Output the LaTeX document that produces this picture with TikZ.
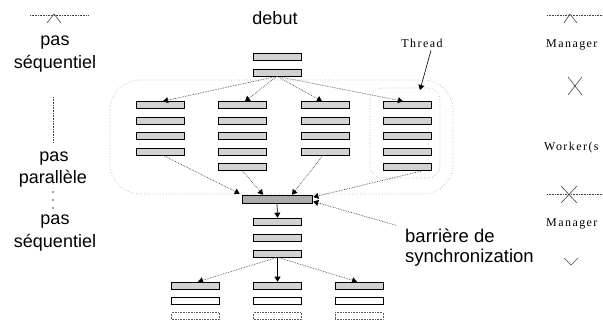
\documentclass[tikz,border=0pt]{standalone}
\usepackage{fontspec}
\setmainfont{Liberation Sans}
\newfontfamily\serifsp[LetterSpace=12]{Liberation Serif}
\usetikzlibrary{arrows.meta}

\tikzset{
  blk/.style={draw=black, line width=0.6pt, fill=gray!35, minimum width=48pt,
              minimum height=7pt, inner sep=0pt},
  barrier/.style={blk, fill=gray!65, minimum width=70pt, minimum height=8pt},
  hollow/.style={blk, fill=white},
  dotbox/.style={blk, fill=none, draw=gray!70!black, densely dotted},
  link/.style={draw=gray!55!black, line width=0.7pt, densely dotted,
               -{Triangle[length=5pt,width=6pt,color=black]}},
  solidlink/.style={draw=black, line width=0.7pt,
                    -{Triangle[length=5pt,width=6pt,color=black]}},
  zone/.style={draw=gray!65, line width=0.7pt, dotted},
  stepmark/.style={draw=gray!55!black, line width=0.6pt},
  lbl/.style={font=\fontsize{18}{22}\selectfont, inner sep=0pt},
  small/.style={font=\serifsp\fontsize{12}{14}\selectfont, inner sep=0pt}
}

\begin{document}
\begin{tikzpicture}[x=1pt, y=-1pt]
\useasboundingbox (0,0) rectangle (603,322);
\clip (0,0) rectangle (603,322);

% regions: the whole parallel step and one thread
\draw[zone, rounded corners=30pt] (110,80) rectangle (453,194);
\draw[zone, rounded corners=12pt] (370,88) rectangle (440,178);

% sequential step at the top
\node[blk] (t1) at (277,56.5) {};
\node[blk] (t2) at (277,72.5) {};

% the four threads
\foreach \c/\x in {1/160,3/325} {
  \foreach \r/\y in {1/105,2/120.5,3/136,4/151.5}
    \node[blk] (c\c r\r) at (\x,\y) {};
}
\foreach \c/\x in {2/242.5,4/407.5} {
  \foreach \r/\y in {1/105,2/120.5,3/136,4/151.5,5/167}
    \node[blk] (c\c r\r) at (\x,\y) {};
}

% synchronisation barrier
\node[barrier] (bar) at (277,199) {};

% sequential step below the barrier
\node[blk] (m1) at (277.5,221.5) {};
\node[blk] (m2) at (277.5,237.5) {};
\node[blk] (m3) at (277.5,253.5) {};

% next parallel step
\foreach \k/\x in {1/195.5,2/277.5,3/359} {
  \node[blk] (b\k) at (\x,285.5) {};
  \node[hollow] (h\k) at (\x,301) {};
  \node[dotbox] (d\k) at (\x,316) {};
}

% fork
\draw[link] (t2.south) -- ([xshift=3pt]c1r1.north);
\draw[link] (t2.south) -- ([xshift=2.5pt]c2r1.north);
\draw[link] (t2.south) -- ([xshift=-3pt]c3r1.north);
\draw[link] (t2.south) -- ([xshift=-4.5pt]c4r1.north);

% join
\draw[link] ([xshift=3pt]c1r4.south) -- ([xshift=-2pt,yshift=1pt]bar.north west);
\draw[link] (c2r5.south) -- ([xshift=-14pt]bar.north);
\draw[link] ([xshift=-2pt]c3r4.south) -- ([xshift=15pt]bar.north);
\draw[link] ([xshift=15pt]c4r5.south) -- ([xshift=1pt,yshift=2pt]bar.east);

\draw[solidlink] (bar.south) -- (m1.north);

% second fork
\draw[link] (m3.south) -- ([xshift=2.5pt]b1.north);
\draw[solidlink] (m3.south) -- (b2.north);
\draw[link] (m3.south) -- ([xshift=-2pt]b3.north);

% labels
\node[lbl, anchor=base] (debut) at (275,24) {debut};
\node[lbl, anchor=base] (s1a) at (55,45) {pas};
\node[lbl, anchor=base] (s1b) at (55,68) {séquentiel};
\node[lbl, anchor=base] (p1a) at (54,161) {pas};
\node[lbl, anchor=base] (p1b) at (53,183) {parallèle};
\node[lbl, anchor=base] (s2a) at (55,224) {pas};
\node[lbl, anchor=base] (s2b) at (55,247) {séquentiel};
\node[lbl, anchor=base west, font=\fontsize{18.5}{22}\selectfont] (bara) at (405,242) {barrière de};
\node[lbl, anchor=base west, font=\fontsize{18.5}{22}\selectfont] (barb) at (405,262) {synchronization};

\draw[link] ([xshift=-9pt,yshift=10pt]bara.west) -- ([xshift=1pt,yshift=-2.5pt]bar.east);

\node[small, anchor=base] (thread) at (422,47) {Thread};
\coordinate (thtip) at (420,90);
\draw[solidlink, line width=0.6pt] ([xshift=9pt,yshift=-3pt]thread.south) -- (thtip);

\node[small, anchor=base west] (mg1) at (546,47) {Manager};
\node[small, anchor=base west] (wk) at (544,150) {Worker(s};
\node[small, anchor=base west] (mg2) at (546,226) {Manager};

% step markers, left
\draw[stepmark, densely dotted] (30,15) -- (88,15);
\draw[stepmark] (47,23) -- (54,14) -- (61,23);
\draw[stepmark, densely dotted] (53,97) -- (53,143);
\foreach \y in {192,200,208}
  \fill[gray!55!black] (53,\y) circle (0.8);

% step markers, right
\draw[stepmark, densely dotted] (547,15) -- (603,15);
\draw[stepmark] (564,23) -- (570,14) -- (577,23);
\draw[stepmark] (568,77) -- (582,95) (582,77) -- (568,95);
\draw[stepmark, densely dotted] (547,194) -- (603,194);
\draw[stepmark] (561,186) -- (577,203) (577,186) -- (561,203);
\draw[stepmark] (564,258) -- (571,265) -- (578,258);
\end{tikzpicture}
\end{document}
